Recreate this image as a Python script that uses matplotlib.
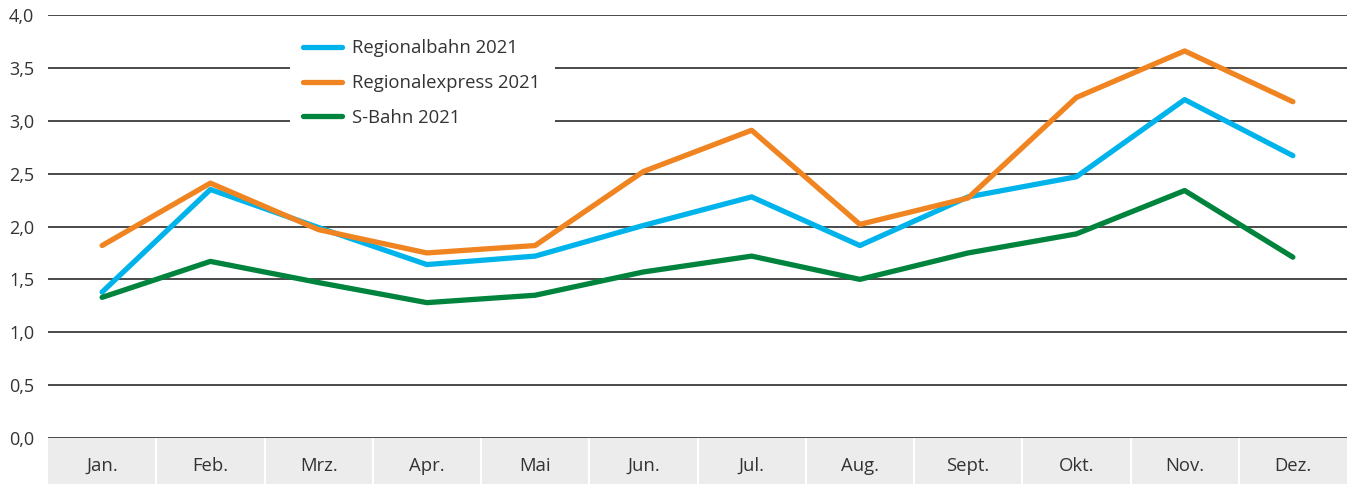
import numpy as np
import matplotlib.pyplot as plt

months = ["Jan.", "Feb.", "Mrz.", "Apr.", "Mai", "Jun.", "Jul.", "Aug.", "Sept.", "Okt.", "Nov.", "Dez."]
regionalbahn = [1.38, 2.35, 1.99, 1.64, 1.72, 2.01, 2.28, 1.82, 2.28, 2.47, 3.20, 2.67]
regionalexpress = [1.82, 2.41, 1.97, 1.75, 1.82, 2.52, 2.91, 2.02, 2.27, 3.22, 3.66, 3.18]
sbahn = [1.33, 1.67, 1.47, 1.28, 1.35, 1.57, 1.72, 1.50, 1.75, 1.93, 2.34, 1.71]
yticks = [0.0, 0.5, 1.0, 1.5, 2.0, 2.5, 3.0, 3.5, 4.0]

plt.rcParams['font.family'] = ['Open Sans', 'DejaVu Sans']
txt = "#333333"

W, H = 1347, 484
fig = plt.figure(figsize=(W / 100, H / 100), dpi=100)
left, right = 48 / W, 1.0
bottom, top = (H - 438) / H, 1 - 15 / H
ax = fig.add_axes([left, bottom, right - left, top - bottom])
bx = fig.add_axes([left, 0, right - left, bottom])

x = np.arange(len(months))
ax.set_xlim(-0.5, len(months) - 0.5)
ax.set_ylim(0, 4)
for yv in yticks:
    ax.axhline(yv, color="#3a3a3a", lw=1.3, zorder=1)

ax.plot(x, regionalbahn, color="#00b4eb", lw=3.8, label="Regionalbahn 2021", zorder=3, solid_capstyle="round")
ax.plot(x, regionalexpress, color="#f08421", lw=3.8, label="Regionalexpress 2021", zorder=3, solid_capstyle="round")
ax.plot(x, sbahn, color="#00843d", lw=3.8, label="S-Bahn 2021", zorder=3, solid_capstyle="round")

ax.set_yticks(yticks)
ax.set_yticklabels([f"{v:.1f}".replace(".", ",") for v in yticks], fontsize=13, color=txt)
ax.tick_params(axis="y", length=0, pad=10)
ax.set_xticks([])
for s in ax.spines.values():
    s.set_visible(False)

leg = ax.legend(loc="upper left", bbox_to_anchor=(0.186, 0.975), frameon=True, fancybox=False,
                fontsize=13.3, handlelength=2.1, handletextpad=0.55, labelspacing=0.9,
                borderpad=0.75, borderaxespad=0)
leg.get_frame().set_facecolor("white")
leg.get_frame().set_edgecolor("none")
leg.get_frame().set_alpha(1)
leg.set_zorder(5)
for t in leg.get_texts():
    t.set_color(txt)

# grey band with month labels
bx.set_xlim(-0.5, len(months) - 0.5)
bx.set_ylim(0, 1)
bx.set_facecolor("#ececec")
for i in range(1, len(months)):
    bx.axvline(i - 0.5, color="white", lw=1.5)
for i, m in enumerate(months):
    bx.text(i, 0.40, m, ha="center", va="center", fontsize=13.3, color=txt)
bx.set_xticks([])
bx.set_yticks([])
for s in bx.spines.values():
    s.set_visible(False)

fig.savefig("out.png", dpi=100)
